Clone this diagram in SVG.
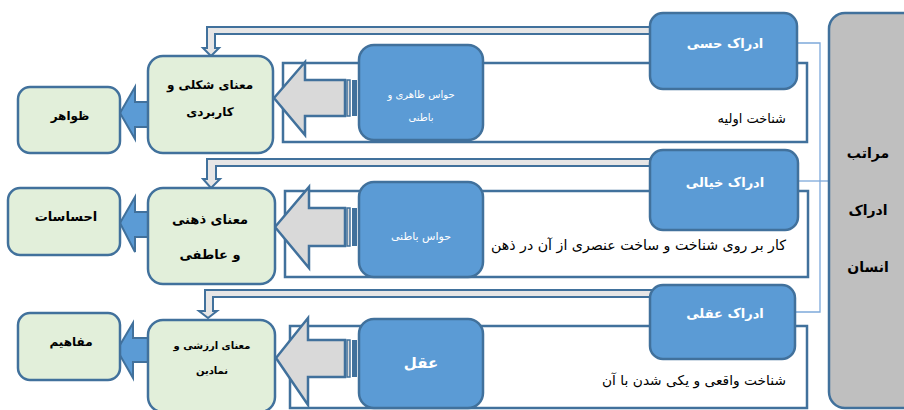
<svg xmlns="http://www.w3.org/2000/svg" width="904" height="410" viewBox="0 0 904 410">
<style>
.frame{fill:#fff;stroke:#41719C;stroke-width:2.5}
.blue{fill:#5B9BD5;stroke:#41719C;stroke-width:2.5}
.green{fill:#E2EFDA;stroke:#41719C;stroke-width:2.5}
.gray{fill:#BFBFBF;stroke:#41719C;stroke-width:2.5}
.garrow{fill:#D9D9D9;stroke:#41719C;stroke-width:2.5;stroke-linejoin:miter}
.barrow{fill:#5B9BD5;stroke:#41719C;stroke-width:2}
.band{fill:#E7E6E6;stroke:#41719C;stroke-width:2}
.thin{fill:none;stroke:#7EA9DA;stroke-width:1.3}
text{font-family:"DejaVu Sans","Noto Sans",sans-serif}
.wt{fill:#fff;font-weight:bold;font-size:13px;text-anchor:middle}
.ws{fill:#fff;font-size:10px;text-anchor:middle}
.bt{fill:#000;font-weight:bold;font-size:13px;text-anchor:middle}
.nt{fill:#000;font-size:13px;text-anchor:end}
</style>

<g id="frames">
<rect class="frame" x="283" y="63" width="524" height="79"/>
<rect class="frame" x="285" y="191" width="523" height="86"/>
<rect class="frame" x="290" y="326" width="517" height="82"/>
<text class="nt" x="786" y="123">شناخت اولیه</text>
<text class="nt" x="786" y="250" style="font-size:14px" textLength="295" lengthAdjust="spacingAndGlyphs">کار بر روی شناخت و ساخت عنصری از آن در ذهن</text>
<text class="nt" x="786" y="385" style="font-size:13.5px" textLength="184" lengthAdjust="spacingAndGlyphs">شناخت واقعی و یکی شدن با آن</text>
</g>

<g id="connectors">
<polyline class="thin" points="797,43 820,43 820,312 795,312"/>
<line class="thin" x1="798" y1="181" x2="830" y2="181"/>
<polygon class="band" points="672,27 207,27 207,48 203,48 211,56 219,48 215,48 215,34 672,34"/>
<polygon class="band" points="672,159 207,159 207,179 203,179 211,188 220,179 216,179 216,166 672,166"/>
<polygon class="band" points="668,290 205,290 205,311 199,311 208,318 217,311 213,311 213,297 668,297"/>
<polygon class="garrow" points="274,98 305,62 305,80 345,80 345,116 305,116 305,135"/>
<rect x="347" y="80" width="3" height="36" fill="#D9D9D9" stroke="#41719C" stroke-width="1.5"/>
<rect x="352" y="80" width="5" height="36" fill="#41719C"/>
<polygon class="garrow" points="275,227 309,187 309,208 345,208 345,246 309,246 309,268"/>
<rect x="347" y="208" width="3" height="38" fill="#D9D9D9" stroke="#41719C" stroke-width="1.5"/>
<rect x="352" y="208" width="5" height="38" fill="#41719C"/>
<polygon class="garrow" points="276,358 308,318 308,340 345,340 345,377 308,377 308,405"/>
<rect x="347" y="340" width="3" height="37" fill="#D9D9D9" stroke="#41719C" stroke-width="1.5"/>
<rect x="352" y="340" width="5" height="37" fill="#41719C"/>
<polygon class="barrow" points="120,113 135,87 135,102 149,102 149,127 135,127 135,139"/>
<polygon class="barrow" points="120,223 135,197 135,212 149,212 149,237 135,237 135,252"/>
<polygon class="barrow" points="117,350 133,323 133,338 149,338 149,362 133,362 133,378"/>
</g>

<g id="n-senses-outer">
<rect class="blue" x="359" y="45" width="124" height="95" rx="15"/>
<text class="ws" x="421" y="98">حواس ظاهری و</text>
<text class="ws" x="421" y="121">باطنی</text>
</g>
<g id="n-senses-inner">
<rect class="blue" x="359" y="182" width="124" height="95" rx="15"/>
<text class="ws" x="421" y="240" style="font-size:11px">حواس باطنی</text>
</g>
<g id="n-intellect">
<rect class="blue" x="359" y="319" width="124" height="89" rx="15"/>
<text class="wt" x="421" y="368" style="font-size:15px">عقل</text>
</g>

<g id="n-sensory">
<rect class="blue" x="650" y="13" width="147" height="76" rx="13"/>
<text class="wt" x="725" y="48">ادراک حسی</text>
</g>
<g id="n-imaginal">
<rect class="blue" x="650" y="150" width="148" height="80" rx="13"/>
<text class="wt" x="725" y="187">ادراک خیالی</text>
</g>
<g id="n-rational">
<rect class="blue" x="650" y="285" width="145" height="74" rx="13"/>
<text class="wt" x="725" y="318">ادراک عقلی</text>
</g>

<g id="n-form">
<rect class="green" x="148" y="56" width="125" height="97" rx="15"/>
<text class="bt" x="210" y="89" style="font-size:12px">معنای شکلی و</text>
<text class="bt" x="210" y="116" style="font-size:12px">کاربردی</text>
</g>
<g id="n-mental">
<rect class="green" x="148" y="188" width="127" height="96" rx="15"/>
<text class="bt" x="210" y="224">معنای ذهنی</text>
<text class="bt" x="210" y="259">و عاطفی</text>
</g>
<g id="n-value">
<rect class="green" x="148" y="320" width="127" height="92" rx="15"/>
<text class="bt" x="212" y="349" style="font-size:10px">معنای ارزشی و</text>
<text class="bt" x="212" y="374" style="font-size:10px">نمادین</text>
</g>

<g id="n-appearances">
<rect class="green" x="18" y="87" width="102" height="66" rx="12"/>
<text class="bt" x="70" y="120" style="font-size:12px">ظواهر</text>
</g>
<g id="n-feelings">
<rect class="green" x="8" y="188" width="112" height="67" rx="12"/>
<text class="bt" x="66" y="221">احساسات</text>
</g>
<g id="n-concepts">
<rect class="green" x="18" y="313" width="102" height="67" rx="12"/>
<text class="bt" x="71" y="346" style="font-size:12px">مفاهیم</text>
</g>

<g id="n-levels">
<rect class="gray" x="829" y="13" width="90" height="395" rx="16"/>
<text class="bt" x="868" y="158" style="font-size:14px">مراتب</text>
<text class="bt" x="868" y="215" style="font-size:14px">ادراک</text>
<text class="bt" x="868" y="272" style="font-size:14px">انسان</text>
</g>
</svg>
